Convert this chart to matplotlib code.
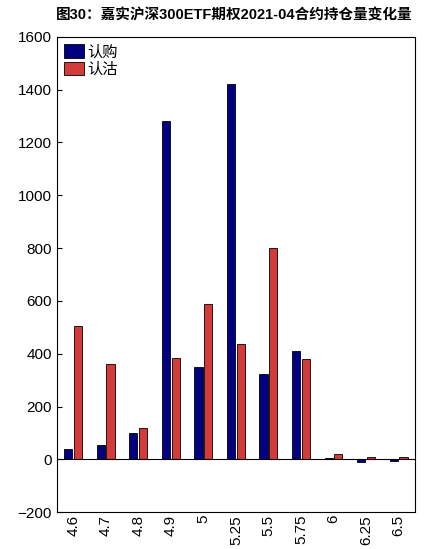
import numpy as np
import matplotlib.pyplot as plt

plt.rcParams['font.family'] = ['Liberation Sans', 'Noto Sans CJK SC']

strikes = ['4.6', '4.7', '4.8', '4.9', '5', '5.25', '5.5', '5.75', '6', '6.25', '6.5']
calls = [40, 55, 100, 1280, 350, 1420, 325, 410, 5, -10, -5]
puts = [505, 360, 120, 385, 590, 435, 800, 380, 20, 10, 10]

fig = plt.figure(figsize=(4.34, 5.49), dpi=100)
ax = fig.add_axes([0.131, 0.067, 0.825, 0.866])
x = np.arange(len(strikes))
w = 0.25
ax.bar(x - 0.15, calls, w, color='#000080', edgecolor='black', linewidth=0.6, label='认购')
ax.bar(x + 0.15, puts, w, color='#D33A3A', edgecolor='black', linewidth=0.6, label='认沽')
ax.axhline(0, color='black', linewidth=0.8)
ax.set_xlim(-0.5, len(strikes) - 0.5)
ax.set_ylim(-200, 1600)
ax.set_yticks(range(-200, 1601, 200))
ax.set_xticks(x)
ax.set_xticklabels(strikes, rotation=90, fontsize=11)
ax.tick_params(axis='y', labelsize=11, direction='in')
ax.tick_params(axis='x', direction='in', length=0, pad=2)
ax.legend(loc='upper left', fontsize=11, frameon=False, handlelength=1.3,
          handleheight=1.0, handletextpad=0.2, borderaxespad=0.1, labelspacing=0.15)
fig.suptitle('图30：嘉实沪深300ETF期权2021-04合约持仓量变化量', fontsize=10.5,
             fontweight='bold', x=0.54, y=0.985)
fig.savefig('out.png')
